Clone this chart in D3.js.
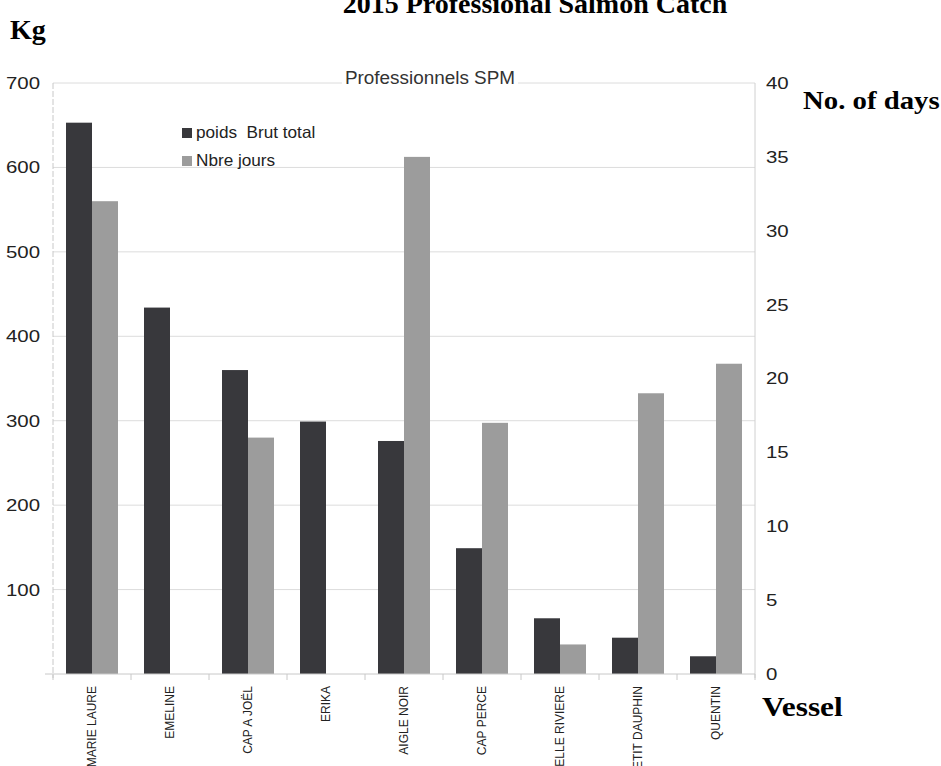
<!DOCTYPE html>
<html>
<head>
<meta charset="utf-8">
<script src="https://cdn.jsdelivr.net/npm/d3@7"></script>
<style>
  html, body { margin: 0; padding: 0; background: #fff; overflow: hidden; }
  svg { display: block; }
</style>
</head>
<body>
<svg id="chart" width="941" height="766"></svg>
<script>
const vessels = ["MARIE LAURE", "EMELINE", "CAP A JOËL", "ERIKA", "AIGLE NOIR", "CAP PERCE", "BELLE RIVIERE", "PETIT DAUPHIN", "QUENTIN"];
const poidsBrutTotal = [653, 434, 360, 299, 276, 149, 66, 43, 21];
const nbreJours = [32, 0, 16, 0, 35, 17, 2, 19, 21];
const kgTicks = [100, 200, 300, 400, 500, 600, 700];
const dayTicks = [0, 5, 10, 15, 20, 25, 30, 35, 40];
const seriesNames = ["poids  Brut total", "Nbre jours"];

const svg = d3.select("#chart");
const mLeft = 53, mRight = 755, mTop = 83, mBottom = 674;
const darkCol = "#38383c", lightCol = "#9c9c9c";
const sans = "Liberation Sans, Arial, sans-serif";
const serif = "Liberation Serif, Times New Roman, serif";

function stretch(sel, k) {
  sel.each(function () {
    const w = this.getComputedTextLength();
    d3.select(this).attr("textLength", w * k).attr("lengthAdjust", "spacingAndGlyphs");
  });
}

const x0 = d3.scaleBand().domain(vessels).range([mLeft, mRight]).padding(0);
const x1 = d3.scaleBand().domain(["kg", "days"]).range([13, x0.bandwidth() - 13]).padding(0);
const yKg = d3.scaleLinear().domain([0, 700]).range([mBottom, mTop]);
const yDays = d3.scaleLinear().domain([0, 40]).range([mBottom, mTop]);

// gridlines
svg.append("g").selectAll("line").data(kgTicks).join("line")
  .attr("x1", mLeft).attr("x2", mRight)
  .attr("y1", d => yKg(d)).attr("y2", d => yKg(d))
  .attr("stroke", "#dcdcdc").attr("stroke-width", 1);

// axes frame lines
svg.append("line").attr("x1", mLeft).attr("x2", mLeft).attr("y1", mTop).attr("y2", mBottom + 4)
  .attr("stroke", "#c8c8c8").attr("stroke-dasharray", "6,2");
svg.append("line").attr("x1", mRight).attr("x2", mRight).attr("y1", mTop).attr("y2", mBottom + 4)
  .attr("stroke", "#d0d0d0");

// bars
const groups = svg.append("g").selectAll("g").data(vessels).join("g")
  .attr("transform", d => `translate(${x0(d)},0)`);
groups.append("rect")
  .attr("x", x1("kg")).attr("width", x1.bandwidth())
  .attr("y", (d, i) => yKg(poidsBrutTotal[i]))
  .attr("height", (d, i) => yKg(0) - yKg(poidsBrutTotal[i]))
  .attr("fill", darkCol);
groups.append("rect")
  .attr("x", x1("days")).attr("width", x1.bandwidth())
  .attr("y", (d, i) => yDays(nbreJours[i]))
  .attr("height", (d, i) => yDays(0) - yDays(nbreJours[i]))
  .attr("fill", lightCol);

// bottom axis line + ticks at category boundaries
svg.append("line").attr("x1", mLeft - 8).attr("x2", mRight).attr("y1", mBottom).attr("y2", mBottom)
  .attr("stroke", "#c8c8c8");
const bounds = vessels.map(v => x0(v)).concat([mRight]);
svg.append("g").selectAll("line").data(bounds).join("line")
  .attr("x1", d => d).attr("x2", d => d).attr("y1", mBottom).attr("y2", mBottom + 6)
  .attr("stroke", "#c8c8c8");

// left axis labels
const leftAxis = d3.axisLeft(yKg).tickValues(kgTicks).tickSize(0).tickPadding(13);
const gl = svg.append("g").attr("transform", `translate(${mLeft},0)`).call(leftAxis);
gl.select(".domain").remove();
gl.selectAll("text").attr("font-family", sans).attr("font-size", 17).attr("fill", "#222");
stretch(gl.selectAll("text"), 1.2);

// right axis labels
const rightAxis = d3.axisRight(yDays).tickValues(dayTicks).tickSize(0).tickPadding(11);
const gr = svg.append("g").attr("transform", `translate(${mRight},0)`).call(rightAxis);
gr.select(".domain").remove();
gr.selectAll("text").attr("font-family", sans).attr("font-size", 17).attr("fill", "#222");
stretch(gr.selectAll("text"), 1.2);

// x category labels
svg.append("g").selectAll("text").data(vessels).join("text")
  .attr("transform", d => `translate(${x0(d) + x0.bandwidth() / 2 + 4},${mBottom + 12}) rotate(-90)`)
  .attr("text-anchor", "end")
  .attr("font-family", "Liberation Sans Narrow, Arial Narrow, Liberation Sans, sans-serif")
  .attr("font-size", 12).attr("fill", "#222")
  .text(d => d);

// inner chart title with white background
const subBg = svg.append("rect").attr("fill", "#fff");
const subt = svg.append("text").attr("x", 430).attr("y", 84).attr("text-anchor", "middle")
  .attr("font-family", sans).attr("font-size", 18).attr("fill", "#333")
  .text("Professionnels SPM");
stretch(subt, 1.05);
const bb = subt.node().getBBox();
subBg.attr("x", bb.x - 3).attr("y", bb.y).attr("width", bb.width + 6).attr("height", bb.height + 2);

// legend
const legColors = [darkCol, lightCol];
const leg = svg.append("g");
seriesNames.forEach((name, i) => {
  const yy = 138 + i * 28;
  leg.append("rect").attr("x", 182).attr("y", yy - 10).attr("width", 10).attr("height", 10).attr("fill", legColors[i]);
  const t = leg.append("text").attr("x", 196).attr("y", yy).attr("font-family", sans)
    .attr("font-size", 16.5).attr("fill", "#222").style("white-space", "pre").text(name);
  stretch(t, 1.04);
});

// outer titles
svg.append("text").attr("x", 535).attr("y", 13).attr("text-anchor", "middle")
  .attr("font-family", serif).attr("font-weight", "bold").attr("font-size", 28).attr("fill", "#000")
  .text("2015 Professional Salmon Catch");
svg.append("text").attr("x", 10).attr("y", 39)
  .attr("font-family", serif).attr("font-weight", "bold").attr("font-size", 28).attr("fill", "#000")
  .text("Kg");
const nd = svg.append("text").attr("x", 803).attr("y", 109)
  .attr("font-family", serif).attr("font-weight", "bold").attr("font-size", 25).attr("fill", "#000")
  .text("No. of days");
stretch(nd, 1.15);
const vs = svg.append("text").attr("x", 762).attr("y", 716)
  .attr("font-family", serif).attr("font-weight", "bold").attr("font-size", 28).attr("fill", "#000")
  .text("Vessel");
stretch(vs, 1.12);
</script>
</body>
</html>
